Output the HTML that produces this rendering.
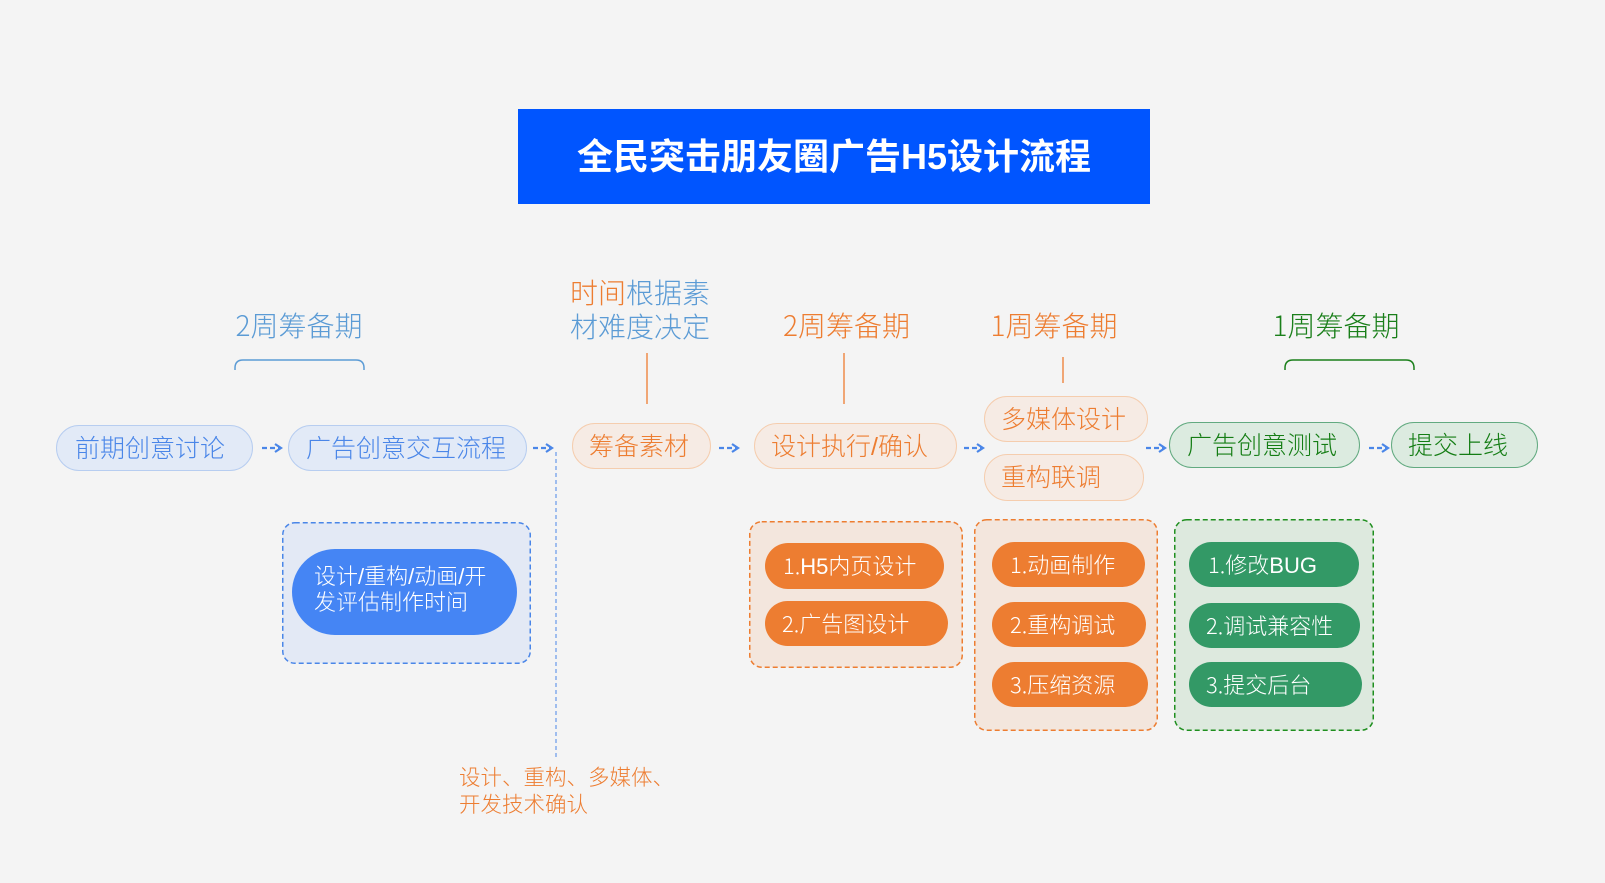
<!DOCTYPE html>
<html><head><meta charset="utf-8">
<style>
html,body{margin:0;padding:0;}
body{width:1605px;height:883px;background:#f4f4f4;position:relative;overflow:hidden;font-family:"Liberation Sans","Noto Sans CJK SC",sans-serif;font-weight:300;}
.a{position:absolute;white-space:nowrap;box-sizing:border-box;}
.title{left:518px;top:109px;width:632px;height:95px;background:#0055ff;color:#fff;font-weight:700;font-size:36px;line-height:95px;text-align:center;}
.lbl{font-size:28px;line-height:34px;text-align:center;}
.node{font-size:25px;border-radius:24px;border:1.5px solid;display:flex;align-items:center;padding-bottom:3px;}
.nb{background:#e2eaf7;border-color:#b7cdf0;color:#4a86e8;}
.no{background:#f6ebe4;border-color:#f5cdae;color:#ed7d31;}
.ng{background:#dcebe0;border-color:#62aa80;color:#147d14;}
.pill{font-size:22px;color:#fff;border-radius:23px;display:flex;align-items:center;padding-bottom:2px;}
.po{background:#ed7d31;}
.pg{background:#339966;}
.d{font-family:"Noto Sans CJK SC","Liberation Sans",sans-serif;font-weight:300;}
</style></head><body>

<svg class="a" style="left:0;top:0" width="1605" height="883" viewBox="0 0 1605 883">
  <rect x="282.75" y="522.75" width="247.5" height="140.5" rx="12" fill="#e3e9f5" stroke="#4a86e8" stroke-width="1.5" stroke-dasharray="5 3"/>
  <rect x="749.75" y="521.75" width="212.5" height="145.5" rx="12" fill="#f3e6dd" stroke="#ed7d31" stroke-width="1.5" stroke-dasharray="5 3"/>
  <rect x="974.75" y="519.75" width="182.5" height="210.5" rx="12" fill="#f3e6dd" stroke="#ed7d31" stroke-width="1.5" stroke-dasharray="5 3"/>
  <rect x="1174.75" y="519.75" width="198.5" height="210.5" rx="12" fill="#dde9de" stroke="#1f8f1f" stroke-width="1.5" stroke-dasharray="5 3"/>
  <rect x="292" y="549" width="225" height="86" rx="43" fill="#4585f4"/>
  <path d="M235 370 L235 368 Q235 360 243 360 L356 360 Q364 360 364 368 L364 370" fill="none" stroke="#5b9bd5" stroke-width="1.5"/>
  <path d="M1285 370 L1285 368 Q1285 360 1293 360 L1406 360 Q1414 360 1414 368 L1414 370" fill="none" stroke="#1a7f1a" stroke-width="1.5"/>
  <line x1="647" y1="353" x2="647" y2="404" stroke="#ed7d31" stroke-width="1.3"/>
  <line x1="844" y1="353" x2="844" y2="404" stroke="#ed7d31" stroke-width="1.3"/>
  <line x1="1063" y1="357" x2="1063" y2="383" stroke="#ed7d31" stroke-width="1.3"/>
  <line x1="556" y1="452" x2="556" y2="760" stroke="#4a86e8" stroke-width="1" stroke-dasharray="4 3"/>
  <g stroke="#4a86e8" fill="none" stroke-width="2.2">
    <g transform="translate(262,448)"><line x1="0" y1="0" x2="17" y2="0" stroke-dasharray="5 3"/><polyline points="13,-4 19,0 13,4"/></g>
    <g transform="translate(533,448)"><line x1="0" y1="0" x2="17" y2="0" stroke-dasharray="5 3"/><polyline points="13,-4 19,0 13,4"/></g>
    <g transform="translate(719,448)"><line x1="0" y1="0" x2="17" y2="0" stroke-dasharray="5 3"/><polyline points="13,-4 19,0 13,4"/></g>
    <g transform="translate(964,448)"><line x1="0" y1="0" x2="17" y2="0" stroke-dasharray="5 3"/><polyline points="13,-4 19,0 13,4"/></g>
    <g transform="translate(1146,448)"><line x1="0" y1="0" x2="17" y2="0" stroke-dasharray="5 3"/><polyline points="13,-4 19,0 13,4"/></g>
    <g transform="translate(1369,448)"><line x1="0" y1="0" x2="17" y2="0" stroke-dasharray="5 3"/><polyline points="13,-4 19,0 13,4"/></g>
  </g>
</svg>

<div class="a title">全民突击朋友圈广告H5设计流程</div>

<div class="a lbl" style="left:232px;top:308px;width:134px;color:#5b9bd5;"><span class="d">2</span>周筹备期</div>
<div class="a lbl" style="left:567px;top:277px;width:146px;color:#5b9bd5;"><span style="color:#ed7d31">时间</span>根据素<br>材难度决定</div>
<div class="a lbl" style="left:779px;top:308px;width:135px;color:#ed7d31;"><span class="d">2</span>周筹备期</div>
<div class="a lbl" style="left:988px;top:308px;width:132px;color:#ed7d31;"><span class="d">1</span>周筹备期</div>
<div class="a lbl" style="left:1270px;top:308px;width:132px;color:#1a7f1a;"><span class="d">1</span>周筹备期</div>

<div class="a node nb" style="left:56px;top:425px;width:197px;height:46px;padding-left:18px;">前期创意讨论</div>
<div class="a node nb" style="left:288px;top:425px;width:239px;height:46px;padding-left:17px;">广告创意交互流程</div>
<div class="a node no" style="left:572px;top:423px;width:139px;height:46px;padding-left:16px;">筹备素材</div>
<div class="a node no" style="left:754px;top:423px;width:203px;height:46px;padding-left:16px;">设计执行/确认</div>
<div class="a node no" style="left:984px;top:396px;width:164px;height:46px;padding-left:16px;">多媒体设计</div>
<div class="a node no" style="left:984px;top:454px;width:160px;height:47px;padding-left:16px;">重构联调</div>
<div class="a node ng" style="left:1169px;top:422px;width:191px;height:46px;padding-left:17px;">广告创意测试</div>
<div class="a node ng" style="left:1391px;top:422px;width:147px;height:46px;padding-left:16px;">提交上线</div>

<div class="a" style="left:314px;top:564px;font-size:22px;line-height:26px;color:#fff;">设计/重构/动画/开<br>发评估制作时间</div>

<div class="a" style="left:459px;top:765px;font-size:21.5px;line-height:27px;color:#ed7d31;">设计、重构、多媒体、<br>开发技术确认</div>

<div class="a pill po" style="left:765px;top:543px;width:179px;height:46px;padding-left:18px;"><span class="d">1.</span>H5内页设计</div>
<div class="a pill po" style="left:765px;top:601px;width:183px;height:45px;padding-left:17px;"><span class="d">2.</span>广告图设计</div>

<div class="a pill po" style="left:992px;top:542px;width:153px;height:45px;padding-left:18px;"><span class="d">1.</span>动画制作</div>
<div class="a pill po" style="left:992px;top:602px;width:154px;height:45px;padding-left:18px;"><span class="d">2.</span>重构调试</div>
<div class="a pill po" style="left:992px;top:662px;width:156px;height:45px;padding-left:18px;"><span class="d">3.</span>压缩资源</div>

<div class="a pill pg" style="left:1189px;top:542px;width:170px;height:45px;padding-left:19px;"><span class="d">1.</span>修改BUG</div>
<div class="a pill pg" style="left:1189px;top:603px;width:171px;height:45px;padding-left:17px;"><span class="d">2.</span>调试兼容性</div>
<div class="a pill pg" style="left:1189px;top:662px;width:173px;height:45px;padding-left:17px;"><span class="d">3.</span>提交后台</div>

</body></html>
